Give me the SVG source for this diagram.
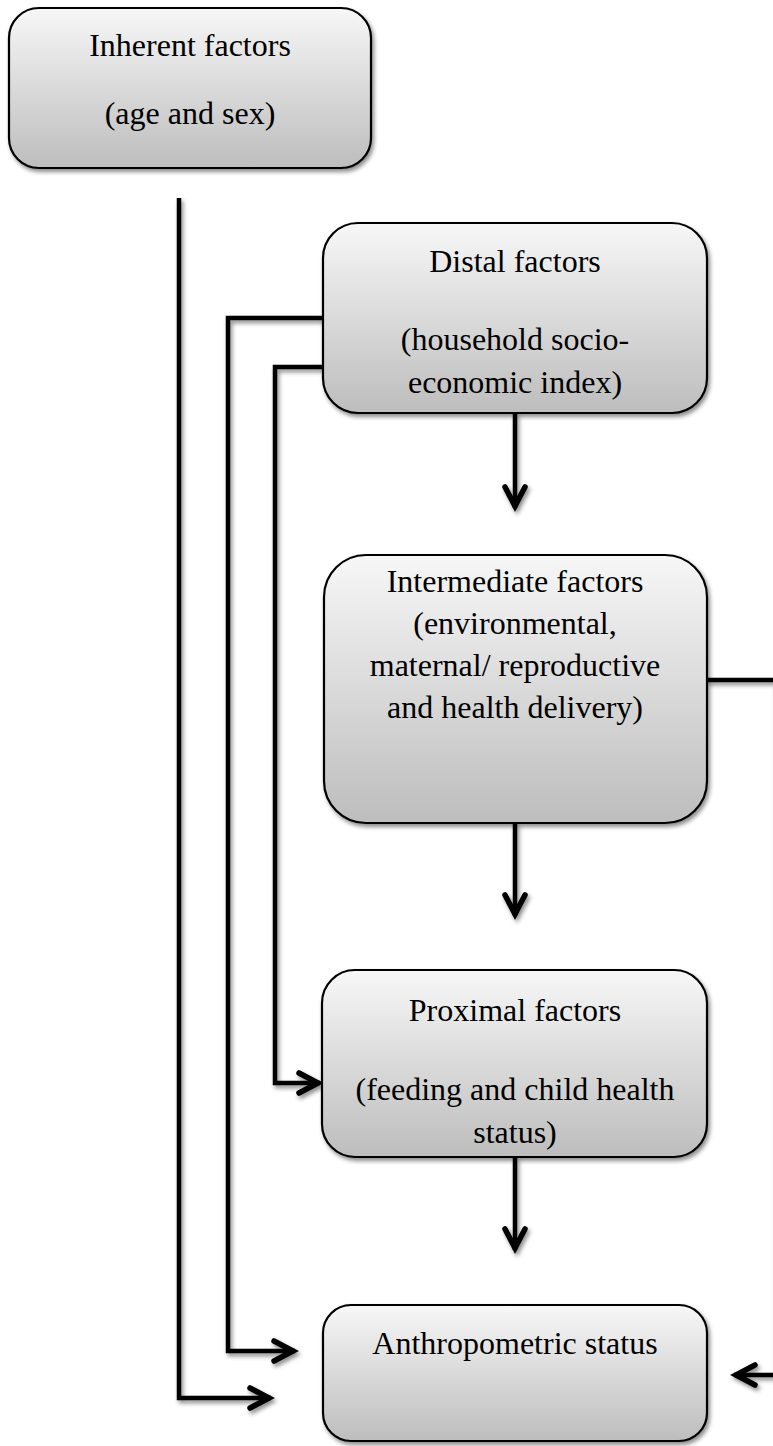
<svg xmlns="http://www.w3.org/2000/svg" width="773" height="1446" viewBox="0 0 773 1446">
<style>
.box{fill:url(#g);stroke:#000;stroke-width:2.2;filter:url(#sh)}
.t{font-family:"Liberation Serif","Times New Roman",serif;font-size:32px;fill:#000;text-anchor:middle}
.c{fill:none;stroke:#000;stroke-width:4.5;stroke-linejoin:miter}
</style>
<defs>
<linearGradient id="g" x1="0" y1="0" x2="0" y2="1">
<stop offset="0" stop-color="#f7f7f7"/>
<stop offset="1" stop-color="#bdbdbd"/>
</linearGradient>
<filter id="sh" x="-10%" y="-10%" width="130%" height="130%">
<feDropShadow dx="2" dy="3" stdDeviation="2" flood-color="#000" flood-opacity="0.45"/>
</filter>
<marker id="ah" markerUnits="userSpaceOnUse" viewBox="-24 -14 28 28" refX="2" refY="0" markerWidth="28" markerHeight="28" orient="auto" overflow="visible">
<path d="M-19 -10 L0 0 L-19 10" fill="none" stroke="#000" stroke-width="5.5" stroke-linecap="round" stroke-linejoin="miter"/>
</marker>
</defs>
<g id="connectors" filter="url(#sh)">
<path class="c" d="M179 198 V1398 H271" marker-end="url(#ah)"/>
<path class="c" d="M323 318 H228 V1351 H295" marker-end="url(#ah)"/>
<path class="c" d="M323 367 H275 V1083 H320" marker-end="url(#ah)"/>
<path class="c" d="M515 413 V508" marker-end="url(#ah)"/>
<path class="c" d="M515 823 V916" marker-end="url(#ah)"/>
<path class="c" d="M515 1157 V1250" marker-end="url(#ah)"/>
<path class="c" d="M706 680 H776 V1375 H734" marker-end="url(#ah)"/>
</g>
<g id="inherent">
<rect class="box" x="9" y="8" width="362" height="160" rx="30"/>
<text class="t" x="190" y="56">Inherent factors</text>
<text class="t" x="190" y="124">(age and sex)</text>
</g>
<g id="distal">
<rect class="box" x="323" y="223" width="384" height="190" rx="35"/>
<text class="t" x="515" y="272">Distal factors</text>
<text class="t" x="515" y="350">(household socio-</text>
<text class="t" x="515" y="393">economic index)</text>
</g>
<g id="intermediate">
<rect class="box" x="324" y="555" width="383" height="268" rx="42"/>
<text class="t" x="515" y="592">Intermediate factors</text>
<text class="t" x="515" y="634">(environmental,</text>
<text class="t" x="515" y="676">maternal/ reproductive</text>
<text class="t" x="515" y="718">and health delivery)</text>
</g>
<g id="proximal">
<rect class="box" x="322" y="970" width="385" height="187" rx="33"/>
<text class="t" x="515" y="1021">Proximal factors</text>
<text class="t" x="515" y="1100">(feeding and child health</text>
<text class="t" x="515" y="1143">status)</text>
</g>
<g id="anthropometric">
<rect class="box" x="323" y="1305" width="384" height="136" rx="28"/>
<text class="t" x="515" y="1354">Anthropometric status</text>
</g>
</svg>
